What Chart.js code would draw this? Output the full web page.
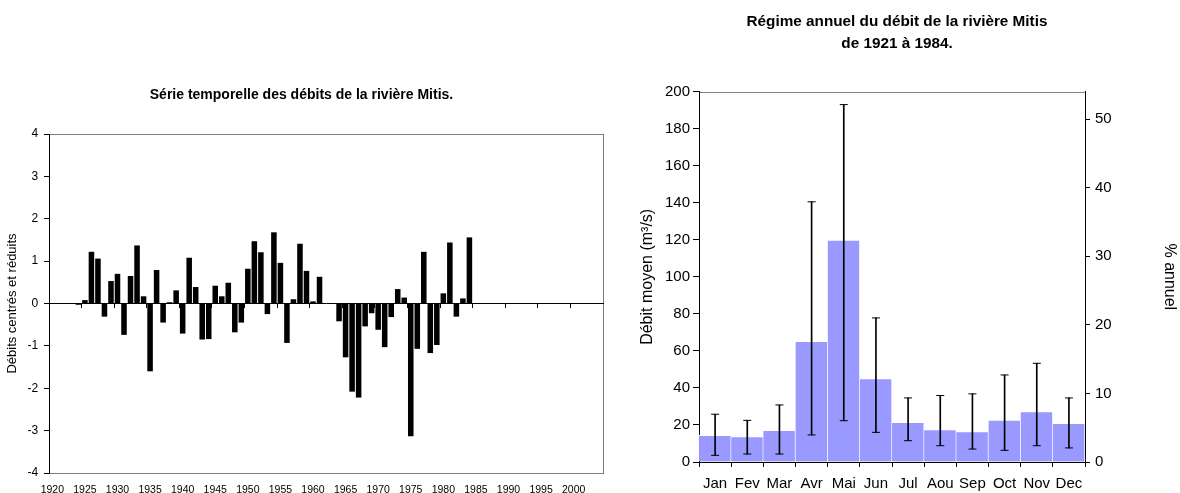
<!DOCTYPE html>
<html>
<head>
<meta charset="utf-8">
<script src="https://cdn.jsdelivr.net/npm/chart.js@4"></script>
<style>
  html, body { margin: 0; padding: 0; background: #fff; overflow: hidden; }
  #left { position: absolute; left: 0; top: 0; width: 620px; height: 507px; }
  #right { position: absolute; left: 620px; top: 0; width: 560px; height: 501px; }
</style>
</head>
<body>
<div id="left"><canvas id="seriesChart"></canvas></div>
<div id="right"><canvas id="regimeChart"></canvas></div>
<script>
// ---------- DATA ----------

// time series: one category per year, labelled every 5 years
var firstYear = 1920;
var lastYear = 2004;
var yearLabelStep = 5;
var seriesStart = 1924;
// standardized flows 1924 .. 1984 (null = no data)
var anomalies = [
  -0.03, 0.08, 1.22, 1.06, -0.31, 0.53, 0.70, -0.74, 0.65, 1.37,
  0.17, -1.60, 0.79, -0.45, 0.03, 0.31, -0.71, 1.08, 0.39, -0.85,
  -0.84, 0.42, 0.17, 0.49, -0.68, -0.45, 0.82, 1.47, 1.21, -0.25,
  1.68, 0.96, -0.93, 0.10, 1.41, 0.77, 0.05, 0.63, null, null,
  -0.42, -1.27, -2.08, -2.22, -0.54, -0.23, -0.62, -1.03, -0.32, 0.34,
  0.14, -3.13, -1.07, 1.22, -1.17, -0.98, 0.24, 1.44, -0.31, 0.12,
  1.56
];

// monthly regime (m3/s) with error bar ends
var months = ['Jan', 'Fev', 'Mar', 'Avr', 'Mai', 'Jun', 'Jul', 'Aou', 'Sep', 'Oct', 'Nov', 'Dec'];
var meanFlow = [14.4, 13.7, 17.1, 65.2, 119.8, 45.0, 21.4, 17.5, 16.4, 22.7, 27.2, 20.9];
var flowHigh = [25.8, 22.5, 30.8, 140.5, 193.0, 77.8, 34.6, 35.9, 36.8, 47.0, 53.3, 34.6];
var flowLow  = [3.6, 4.3, 4.3, 14.6, 22.3, 16.0, 11.5, 8.8, 7.0, 6.3, 8.8, 7.6];
var pctTicks = [0, 10, 20, 30, 40, 50];

// ---------- BUILD ----------

var years = [];
var seriesData = [];
for (var y = firstYear; y <= lastYear; y++) {
  years.push(String(y));
  var k = y - seriesStart;
  seriesData.push(k >= 0 && k < anomalies.length ? anomalies[k] : null);
}

var whiskers = months.map(function(m, i) { return [flowLow[i], flowHigh[i]]; });

Chart.defaults.font.family = "'Liberation Sans', Arial, sans-serif";
Chart.defaults.color = '#000';

// grey frame round the plot area (Excel style)
var plotFrame = {
  id: 'plotFrame',
  beforeDraw: function(chart) {
    var a = chart.chartArea;
    var ctx = chart.ctx;
    ctx.save();
    ctx.strokeStyle = '#808080';
    ctx.lineWidth = 1;
    ctx.strokeRect(Math.round(a.left) + 0.5, Math.round(a.top) + 0.5,
      Math.round(a.right - a.left), Math.round(a.bottom - a.top));
    ctx.restore();
  }
};

// ---------- LEFT : SERIE TEMPORELLE ----------

var seriesChart = new Chart(document.getElementById('seriesChart'), {
  type: 'bar',
  data: {
    labels: years,
    datasets: [{
      data: seriesData,
      backgroundColor: '#000',
      borderWidth: 0,
      categoryPercentage: 1,
      barPercentage: 0.85,
      xAxisID: 'x',
      yAxisID: 'y'
    }]
  },
  options: {
    responsive: true,
    maintainAspectRatio: false,
    animation: false,
    layout: { padding: { left: 0, right: 17, top: 0, bottom: 0 } },
    plugins: {
      legend: { display: false },
      tooltip: { enabled: false },
      title: {
        display: true,
        text: 'Série temporelle des débits de la rivière Mitis.',
        font: { size: 14, weight: 'bold' },
        color: '#000',
        padding: { top: 86.6, bottom: 30.6 }
      }
    },
    scales: {
      x: {
        type: 'category',
        position: 'bottom',
        offset: true,
        grid: { display: false, drawTicks: false },
        border: { display: false },
        ticks: {
          autoSkip: false,
          maxRotation: 0,
          minRotation: 0,
          padding: 10.7,
          font: { size: 10.5 },
          color: '#000',
          callback: function(v, i) {
            return i % yearLabelStep === 0 ? this.getLabelForValue(v) : '';
          }
        }
      },
      // axis line crossing at zero, with a tick every 5 years
      x0: {
        type: 'category',
        position: { y: 0 },
        offset: true,
        grid: {
          drawOnChartArea: false,
          tickLength: 4,
          offset: true,
          color: function(c) { return c.index % yearLabelStep === 0 ? '#000' : 'rgba(0,0,0,0)'; }
        },
        border: { color: '#000' },
        ticks: { display: false }
      },
      y: {
        min: -4,
        max: 4,
        ticks: { stepSize: 1, font: { size: 12 }, color: '#000', padding: 6 },
        grid: { drawOnChartArea: false, tickLength: 5, color: '#000' },
        border: { color: '#000' },
        title: {
          display: true,
          text: 'Débits centrés et réduits',
          font: { size: 13 },
          color: '#000',
          padding: { top: 4.2, bottom: 1.6 }
        }
      }
    }
  },
  plugins: [plotFrame]
});

// ---------- RIGHT : REGIME ANNUEL ----------

var regimeChart = new Chart(document.getElementById('regimeChart'), {
  type: 'bar',
  data: {
    labels: months,
    datasets: [
      {
        type: 'bar',
        data: meanFlow,
        backgroundColor: '#9999ff',
        borderColor: '#fff',
        borderWidth: { top: 1, right: 1, left: 0, bottom: 0 },
        borderSkipped: false,
        grouped: false,
        categoryPercentage: 1,
        barPercentage: 1,
        order: 3
      },
      {
        // error bar stems
        type: 'bar',
        data: whiskers,
        backgroundColor: '#000',
        borderWidth: 0,
        barThickness: 1,
        grouped: false,
        order: 2
      },
      {
        // upper caps
        type: 'line',
        data: flowHigh,
        showLine: false,
        pointStyle: 'line',
        pointRadius: 4,
        pointBorderColor: '#000',
        pointBorderWidth: 1,
        order: 1
      },
      {
        // lower caps
        type: 'line',
        data: flowLow,
        showLine: false,
        pointStyle: 'line',
        pointRadius: 4,
        pointBorderColor: '#000',
        pointBorderWidth: 1,
        order: 1
      }
    ]
  },
  options: {
    responsive: true,
    maintainAspectRatio: false,
    animation: false,
    layout: { padding: { left: 0, right: 6, top: 0, bottom: 0 } },
    plugins: {
      legend: { display: false },
      tooltip: { enabled: false },
      title: {
        display: true,
        text: ['Régime annuel du débit de la rivière Mitis', 'de 1921 à 1984.'],
        font: { size: 15.3, weight: 'bold', lineHeight: 1.4 },
        color: '#000',
        padding: { top: 11.3, bottom: 37.5 }
      }
    },
    scales: {
      x: {
        offset: true,
        grid: { drawOnChartArea: false, tickLength: 5, color: '#000', offset: true },
        border: { color: '#000' },
        ticks: { autoSkip: false, maxRotation: 0, minRotation: 0, font: { size: 15 }, color: '#000', padding: 8 }
      },
      y: {
        position: 'left',
        min: 0,
        max: 200,
        ticks: { stepSize: 20, font: { size: 15 }, color: '#000', padding: 3 },
        grid: { drawOnChartArea: false, tickLength: 6, color: '#000' },
        border: { color: '#000' },
        title: {
          display: true,
          text: 'Débit moyen (m³/s)',
          font: { size: 16 },
          color: '#000',
          padding: { top: 18, bottom: 4.8 }
        }
      },
      y2: {
        position: 'right',
        min: 0,
        max: 54,
        afterBuildTicks: function(axis) {
          axis.ticks = pctTicks.map(function(v) { return { value: v }; });
        },
        ticks: { font: { size: 15 }, color: '#000', padding: 5 },
        grid: { drawOnChartArea: false, tickLength: 5, color: '#000' },
        border: { color: '#000' },
        title: {
          display: true,
          text: '% annuel',
          font: { size: 16 },
          color: '#000',
          padding: { top: -4.6, bottom: 42.7 }
        }
      }
    }
  },
  plugins: [plotFrame]
});
</script>
</body>
</html>
